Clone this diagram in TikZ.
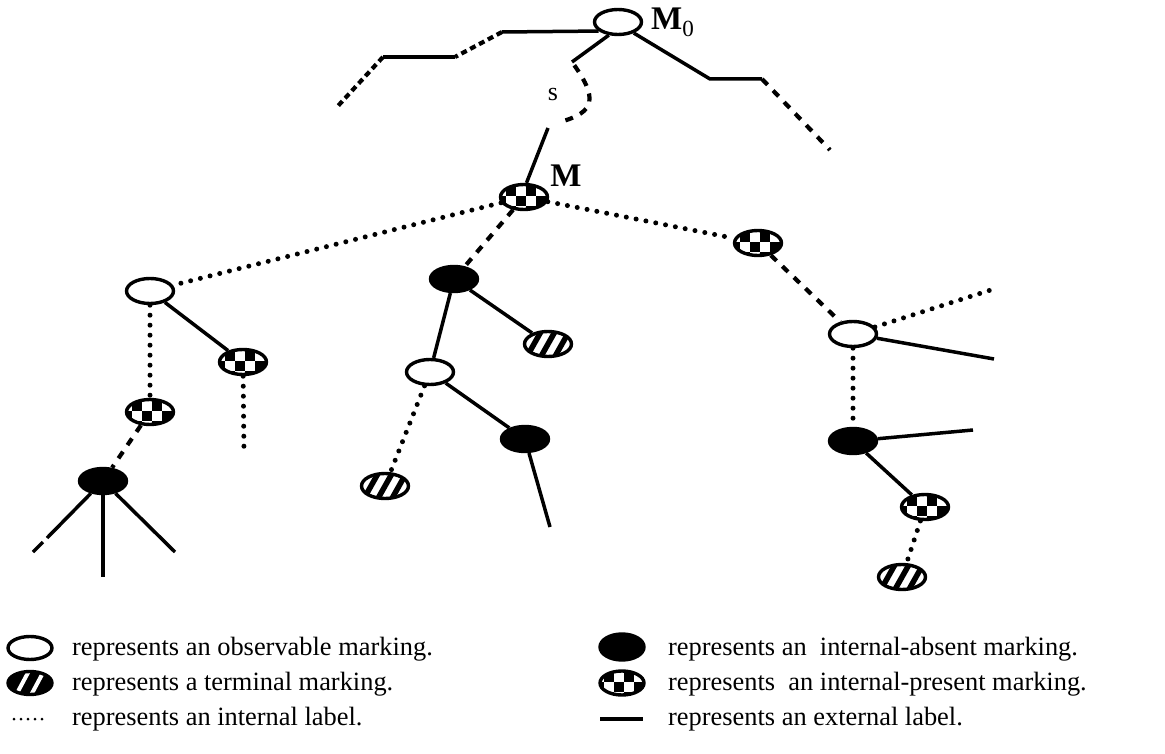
\documentclass[tikz,border=0pt]{standalone}
\usepackage{fontspec}
\setmainfont{Liberation Serif}
\usetikzlibrary{shapes.geometric}

\tikzset{
  mk/.style={ellipse, draw, line width=3.4pt, minimum width=47pt,
             minimum height=25pt, inner sep=0pt},
  obs/.style={mk, fill=white},
  absent/.style={mk, fill=black},
  present/.style={mk, fill=white, path picture={
      \foreach \i in {-3,...,2}{\foreach \j in {-2,...,1}{
        \pgfmathtruncatemacro\chk{mod(\i+\j+10,2)}
        \ifnum\chk=0
          \fill[black, shift={(path picture bounding box.center)}]
            (\i*10pt+2pt,\j*10pt+1pt) rectangle ++(10pt,10pt);
        \fi}}}},
  terminal/.style={mk, fill=white, path picture={
      \foreach \k in {-1,0,1}{
        \draw[black, line width=5.5pt, shift={(path picture bounding box.center)}]
          (\k*14pt-9pt,-16pt) -- (\k*14pt+9pt,16pt);}}},
  terminalkey/.style={mk, fill=black, path picture={
      \foreach \k in {-0.5,0.5}{
        \draw[white, line width=4pt, shift={(path picture bounding box.center)}]
          (\k*15pt-8pt,-15pt) -- (\k*15pt+8pt,15pt);}}},
  ext/.style={line width=3.5pt},
  intl/.style={line width=5pt, line cap=round, dash pattern=on 0pt off 10pt},
  intlkey/.style={line width=3pt, line cap=round, dash pattern=on 0pt off 7pt},
  dsh/.style={line width=4.2pt, dash pattern=on 8pt off 8pt},
  tdsh/.style={line width=4.2pt, dash pattern=on 6pt off 4pt},
  txt/.style={anchor=base west, inner sep=0pt, font=\fontsize{26.4}{30}\selectfont},
  lbl/.style={inner sep=0pt, font=\fontsize{26}{30}\selectfont},
  blbl/.style={inner sep=0pt, font=\fontsize{33}{36}\selectfont\bfseries},
}

\begin{document}
\begin{tikzpicture}[x=1pt, y=-1pt]
\useasboundingbox (0,0) rectangle (1165,754);

% free ends and bends
\coordinate (t1) at (502,32);  \coordinate (t2) at (455,57);
\coordinate (t3) at (383,57);  \coordinate (t4) at (337,107);
\coordinate (r1) at (710,79);  \coordinate (r2) at (762,79);
\coordinate (r3) at (830,150);
\coordinate (s1) at (572,62);
\coordinate (s3) at (560,122); \coordinate (s4) at (548,128);
\coordinate (bd) at (244,453);
\coordinate (dl1) at (47,538); \coordinate (dl2) at (43,542);
\coordinate (dl3) at (33,552);
\coordinate (dv) at (103,577); \coordinate (dr) at (175,552);
\coordinate (hd) at (550,527);
\coordinate (kd) at (997,288); \coordinate (ks) at (994,359);
\coordinate (ls) at (973,430);

% markings
\node[obs]      (M0) at (618,22)  {};
\node[present]  (M)  at (524,197) {};
\node[obs]      (A)  at (150,291) {};
\node[present]  (B)  at (243,362) {};
\node[present]  (C)  at (150,412) {};
\node[absent]   (D)  at (103,481) {};
\node[absent]   (E)  at (454,279) {};
\node[terminal] (F)  at (548,344) {};
\node[obs]      (G)  at (430,372) {};
\node[absent]   (H)  at (525,439) {};
\node[terminal] (I)  at (385,486) {};
\node[present]  (J)  at (758,243) {};
\node[obs]      (K)  at (853,334) {};
\node[absent]   (L)  at (853,441) {};
\node[present]  (N)  at (925,507) {};
\node[terminal] (O)  at (902,577) {};

% branches leaving the initial marking
\draw[ext]  (M0.205) -- (t1);
\draw[tdsh] (t1) -- (t2);
\draw[ext]  (t2) -- (t3);
\draw[tdsh] (t3) -- (t4);
\draw[ext]  (M0.-35) -- (r1) -- (r2);
\draw[dsh]  (r2) -- (r3);

% the sequence s from M0 to M
\draw[ext] (M0.235) -- (s1);
\draw[dsh, dash phase=-4pt] (s1) .. controls (598,98) and (596,112) .. (s3);
\draw[ext] (s4) -- (M.80);
\node[lbl] (s) at (553,95) {s};

% labels of the two markings
\node[blbl, anchor=west] (M0lbl) at (651,22) {M\textsubscript{\normalfont 0}};
\node[blbl] (Mlbl) at (566,176) {M};

% tree below M
\draw[intl] (M) -- (A);
\draw[intl] (M) -- (J);
\draw[dsh]  (M) -- (E);
\draw[ext]  (A) -- (B);
\draw[intl] (A) -- (C);
\draw[intl] (B) -- (bd);
\draw[dsh]  (C) -- (D);
\draw[ext]  (D) -- (dl1);
\draw[ext]  (dl2) -- (dl3);
\draw[ext]  (D) -- (dv);
\draw[ext]  (D) -- (dr);
\draw[ext]  (E) -- (F);
\draw[ext]  (E) -- (G);
\draw[ext]  (G) -- (H);
\draw[intl] (G) -- (I);
\draw[ext]  (H) -- (hd);
\draw[dsh]  (J) -- (K);
\draw[intl] (K) -- (kd);
\draw[ext]  (K) -- (ks);
\draw[intl] (K) -- (L);
\draw[ext]  (L) -- (ls);
\draw[ext]  (L) -- (N);
\draw[intl] (N) -- (O);

% legend
\node[obs, minimum width=44pt, minimum height=23pt] (k1) at (30,648) {};
\node[txt] (k1t) at (72,655) {represents an observable marking.};
\node[terminalkey, minimum width=44pt, minimum height=23pt] (k2) at (30,683) {};
\node[txt] (k2t) at (72,690) {represents a terminal marking.};
\coordinate (k3a) at (14,719); \coordinate (k3b) at (47,719);
\draw[intlkey] (k3a) -- (k3b);
\node[txt] (k3t) at (72,725) {represents an internal label.};

\node[absent, minimum width=44pt, minimum height=26pt] (k4) at (622,647) {};
\node[txt] (k4t) at (668,655) {represents an~ internal-absent marking.};
\node[present, minimum width=44pt, minimum height=24pt] (k5) at (622,683) {};
\node[txt] (k5t) at (668,690) {represents~ an internal-present marking.};
\coordinate (k6a) at (600,719); \coordinate (k6b) at (643,719);
\draw[ext] (k6a) -- (k6b);
\node[txt] (k6t) at (668,725) {represents an external label.};
\end{tikzpicture}
\end{document}
